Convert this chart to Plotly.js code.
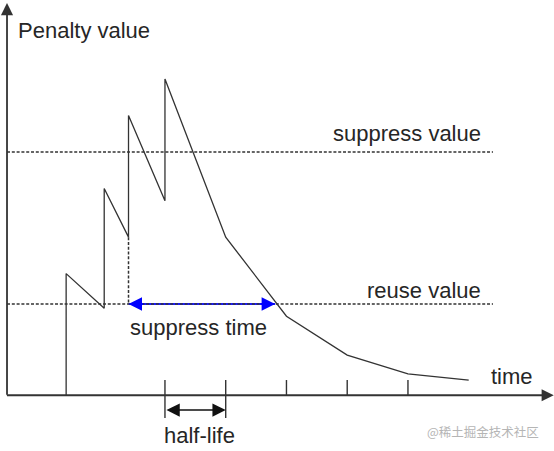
<!DOCTYPE html>
<html>
<head>
<meta charset="utf-8">
<script src="https://cdn.plot.ly/plotly-3.0.1.min.js"></script>
<style>html,body{margin:0;padding:0;background:#fff;}#chart{width:554px;height:451px;}</style>
</head>
<body>
<div id="chart"></div>
<script>
// ---- data (time in minutes, penalty in penalty units) ----
const curveTime    = [14.6, 14.6, 24, 24, 30, 30, 39, 39, 54, 69, 84, 99, 114];
const curvePenalty = [0, 1000, 715, 1700, 1300, 2300, 1600, 2600, 1300, 650, 330, 175, 125];
const suppressValue = 2000;
const reuseValue = 750;
const halfLife = 15;
const tickTimes = [39, 54, 69, 84, 99];
const suppressStart = 30;   // time the route gets suppressed
const suppressEnd = 66.2;   // time penalty decays below reuse value
const labels = {
  yTitle: "Penalty value",
  xTitle: "time",
  suppress: "suppress value",
  reuse: "reuse value",
  suppressTime: "suppress time",
  halfLife: "half-life",
  watermark: "@稀土掘金技术社区"
};

// ---- styling ----
const ink = "#333333";
const txt = "#262626";
const font = {family: "Liberation Sans, Arial, sans-serif", size: 22, color: txt};
const lineEnd = 120;        // extent of dotted guide lines (time units)
const xTip = 135, yTip = 3225;
const tickTop = 125, tickLow = -187, hlArrowY = -122;

// value at suppress start before the flap that crosses the threshold
const preFlapIdx = curveTime.indexOf(suppressStart);
const preFlapPenalty = curvePenalty[preFlapIdx];

const base = {mode: "lines", hoverinfo: "skip", showlegend: false, cliponaxis: false};
const traces = [
  Object.assign({}, base, {x: [suppressStart, suppressEnd], y: [reuseValue, reuseValue],
    line: {color: "#1a1aff", width: 2.2}}),
  Object.assign({}, base, {x: [0, lineEnd], y: [suppressValue, suppressValue],
    line: {color: ink, width: 1.5, dash: "3px,1.8px"}}),
  Object.assign({}, base, {x: [0, lineEnd], y: [reuseValue, reuseValue],
    line: {color: ink, width: 1.5, dash: "3px,1.8px"}}),
  Object.assign({}, base, {x: [suppressStart, suppressStart], y: [preFlapPenalty, reuseValue],
    line: {color: ink, width: 1.5, dash: "3px,1.8px"}}),
  Object.assign({}, base, {x: curveTime, y: curvePenalty,
    line: {color: ink, width: 1.3}})
];

const shapes = tickTimes.map((t, i) => ({
  type: "line", xref: "x", yref: "y",
  x0: t, x1: t, y0: tickTop, y1: (i < 2 ? tickLow : 0),
  line: {color: ink, width: 1.4}
}));

const annotations = [
  // axes with arrows
  {x: 0, y: yTip, ax: 0, ay: -8, axref: "x", ayref: "y", xref: "x", yref: "y", text: "",
   showarrow: true, arrowhead: 2, arrowsize: 1.35, arrowwidth: 1.8, arrowcolor: ink},
  {x: xTip, y: 0, ax: -0.4, ay: 0, axref: "x", ayref: "y", xref: "x", yref: "y", text: "",
   showarrow: true, arrowhead: 2, arrowsize: 1.35, arrowwidth: 1.8, arrowcolor: ink},
  // suppress time arrowheads
  {x: suppressEnd, y: reuseValue, ax: -16, ay: 0, xref: "x", yref: "y", text: "",
   showarrow: true, arrowhead: 2, arrowsize: 1.35, arrowwidth: 2, arrowcolor: "#0000ff"},
  {x: suppressStart, y: reuseValue, ax: 16, ay: 0, xref: "x", yref: "y", text: "",
   showarrow: true, arrowhead: 2, arrowsize: 1.35, arrowwidth: 2, arrowcolor: "#0000ff"},
  // half-life double arrow
  {x: tickTimes[0] + halfLife, y: hlArrowY, ax: tickTimes[0], ay: hlArrowY, axref: "x", ayref: "y",
   xref: "x", yref: "y", text: "", showarrow: true, arrowside: "end+start",
   arrowhead: 2, startarrowhead: 2, arrowsize: 1.9, startarrowsize: 1.9, arrowwidth: 1.4, arrowcolor: "#111"},
  // texts
  {x: 2.2, y: 3000, xref: "x", yref: "y", text: labels.yTitle, showarrow: false, xanchor: "left", yanchor: "middle", font: font},
  {x: 117.6, y: 2150, xref: "x", yref: "y", text: labels.suppress, showarrow: false, xanchor: "right", yanchor: "middle", font: font},
  {x: 117.6, y: 858, xref: "x", yref: "y", text: labels.reuse, showarrow: false, xanchor: "right", yanchor: "middle", font: font},
  {x: 47.4, y: 553, xref: "x", yref: "y", text: labels.suppressTime, showarrow: false, xanchor: "center", yanchor: "middle", font: font},
  {x: 118.9, y: 150, xref: "x", yref: "y", text: labels.xTitle, showarrow: false, xanchor: "left", yanchor: "middle", font: font},
  {x: 47.5, y: -330, xref: "x", yref: "y", text: labels.halfLife, showarrow: false, xanchor: "center", yanchor: "middle", font: font},
  {x: 0.976, y: 0.043, xref: "paper", yref: "paper", text: labels.watermark, showarrow: false,
   xanchor: "right", yanchor: "middle", font: {family: "Noto Sans CJK SC, sans-serif", size: 12.5, color: "#b5b5b5"}}
];

const layout = {
  width: 554, height: 451,
  margin: {l: 0, r: 0, t: 0, b: 0},
  paper_bgcolor: "#ffffff", plot_bgcolor: "#ffffff",
  xaxis: {range: [-1.73, 135.06], visible: false, fixedrange: true},
  yaxis: {range: [-458.6, 3250], visible: false, fixedrange: true},
  shapes: shapes,
  annotations: annotations,
  showlegend: false
};

Plotly.newPlot("chart", traces, layout, {displayModeBar: false, staticPlot: true});
</script>
</body>
</html>
